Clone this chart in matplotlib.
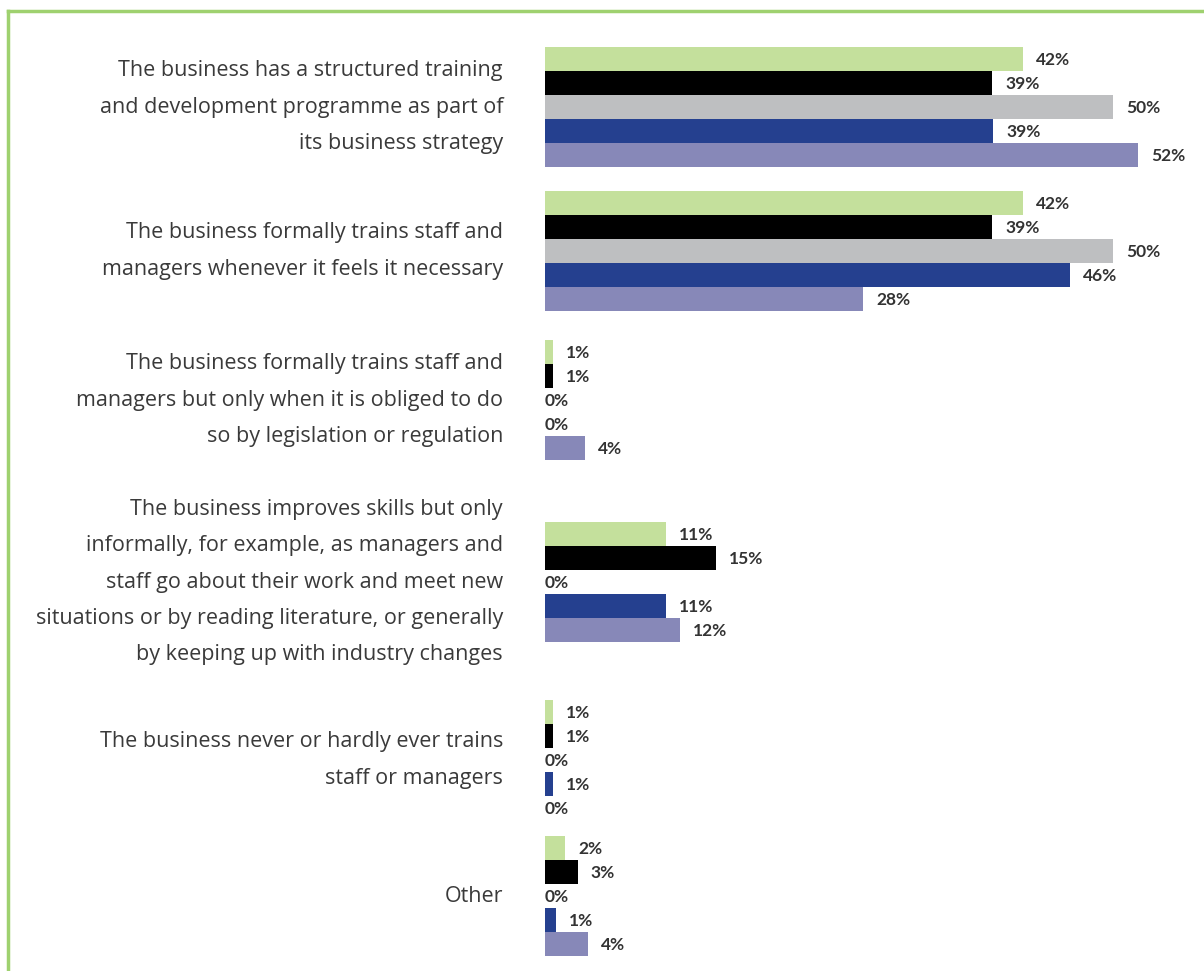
"""Horizontal grouped bar chart: how businesses approach staff training."""

import matplotlib.pyplot as plt
from matplotlib.lines import Line2D

# Categories (top to bottom)
categories = [
    "The business has a structured training\nand development programme as part of\nits business strategy",
    "The business formally trains staff and\nmanagers whenever it feels it necessary",
    "The business formally trains staff and\nmanagers but only when it is obliged to do\nso by legislation or regulation",
    "The business improves skills but only\ninformally, for example, as managers and\nstaff go about their work and meet new\nsituations or by reading literature, or generally\nby keeping up with industry changes",
    "The business never or hardly ever trains\nstaff or managers",
    "Other",
]

# Five series, one value per category (percent;
# labels show the rounded figure)
series_green = [42.1, 42.1, 0.7, 10.65, 0.7, 1.75]
series_black = [39.35, 39.35, 0.7, 15.05, 0.7, 2.9]
series_grey = [50.0, 50.0, 0.0, 0.0, 0.0, 0.0]
series_blue = [39.45, 46.2, 0.0, 10.65, 0.7, 0.95]
series_purple = [52.2, 28.0, 3.55, 11.9, 0.0, 3.75]

series = [series_green, series_black, series_grey, series_blue, series_purple]
colors = ["#c4e09c", "#000000", "#bebfc1", "#25408f", "#8788b8"]

# Layout: vertical centre of each group, in pixels from the top
group_centres = [107, 251, 400, 582, 760, 896]
bar_h = 24

W, H = 1204, 971
fig = plt.figure(figsize=(W / 100, H / 100), dpi=100)
fig.patch.set_facecolor("white")

ax = fig.add_axes([545 / W, 0, 1 - 545 / W, 1])
ax.set_xlim(0, 659 / 11.36)
ax.set_ylim(H, 0)
ax.axis("off")

text_col = "#333333"

for g, centre in enumerate(group_centres):
    top = centre - bar_h * len(series) / 2
    for s, vals in enumerate(series):
        y = top + bar_h * (s + 0.5)
        v = vals[g]
        ax.barh(y, v, height=bar_h, color=colors[s], linewidth=0)
        offset = 13 if v > 0 else 0
        ax.annotate(f"{v:.0f}%", xy=(v, y + 1), xytext=(offset, 0),
                    textcoords="offset pixels", ha="left", va="center",
                    fontsize=12.5, fontweight="bold", color=text_col,
                    family="Lato")
    fig.text(503 / W, 1 - centre / H, categories[g], ha="right", va="center",
             fontsize=15.5, color="#3a3a3a", family="Open Sans",
             linespacing=1.96)

# Green frame (top and left edges visible)
frame_col = "#9fd16f"
fig.add_artist(Line2D([8 / W, 1], [1 - 11 / H, 1 - 11 / H], color=frame_col,
                      linewidth=2.5, transform=fig.transFigure))
fig.add_artist(Line2D([8 / W, 8 / W], [0, 1 - 11 / H], color=frame_col,
                      linewidth=2.5, transform=fig.transFigure))

fig.savefig("out.png", dpi=100, facecolor="white")
